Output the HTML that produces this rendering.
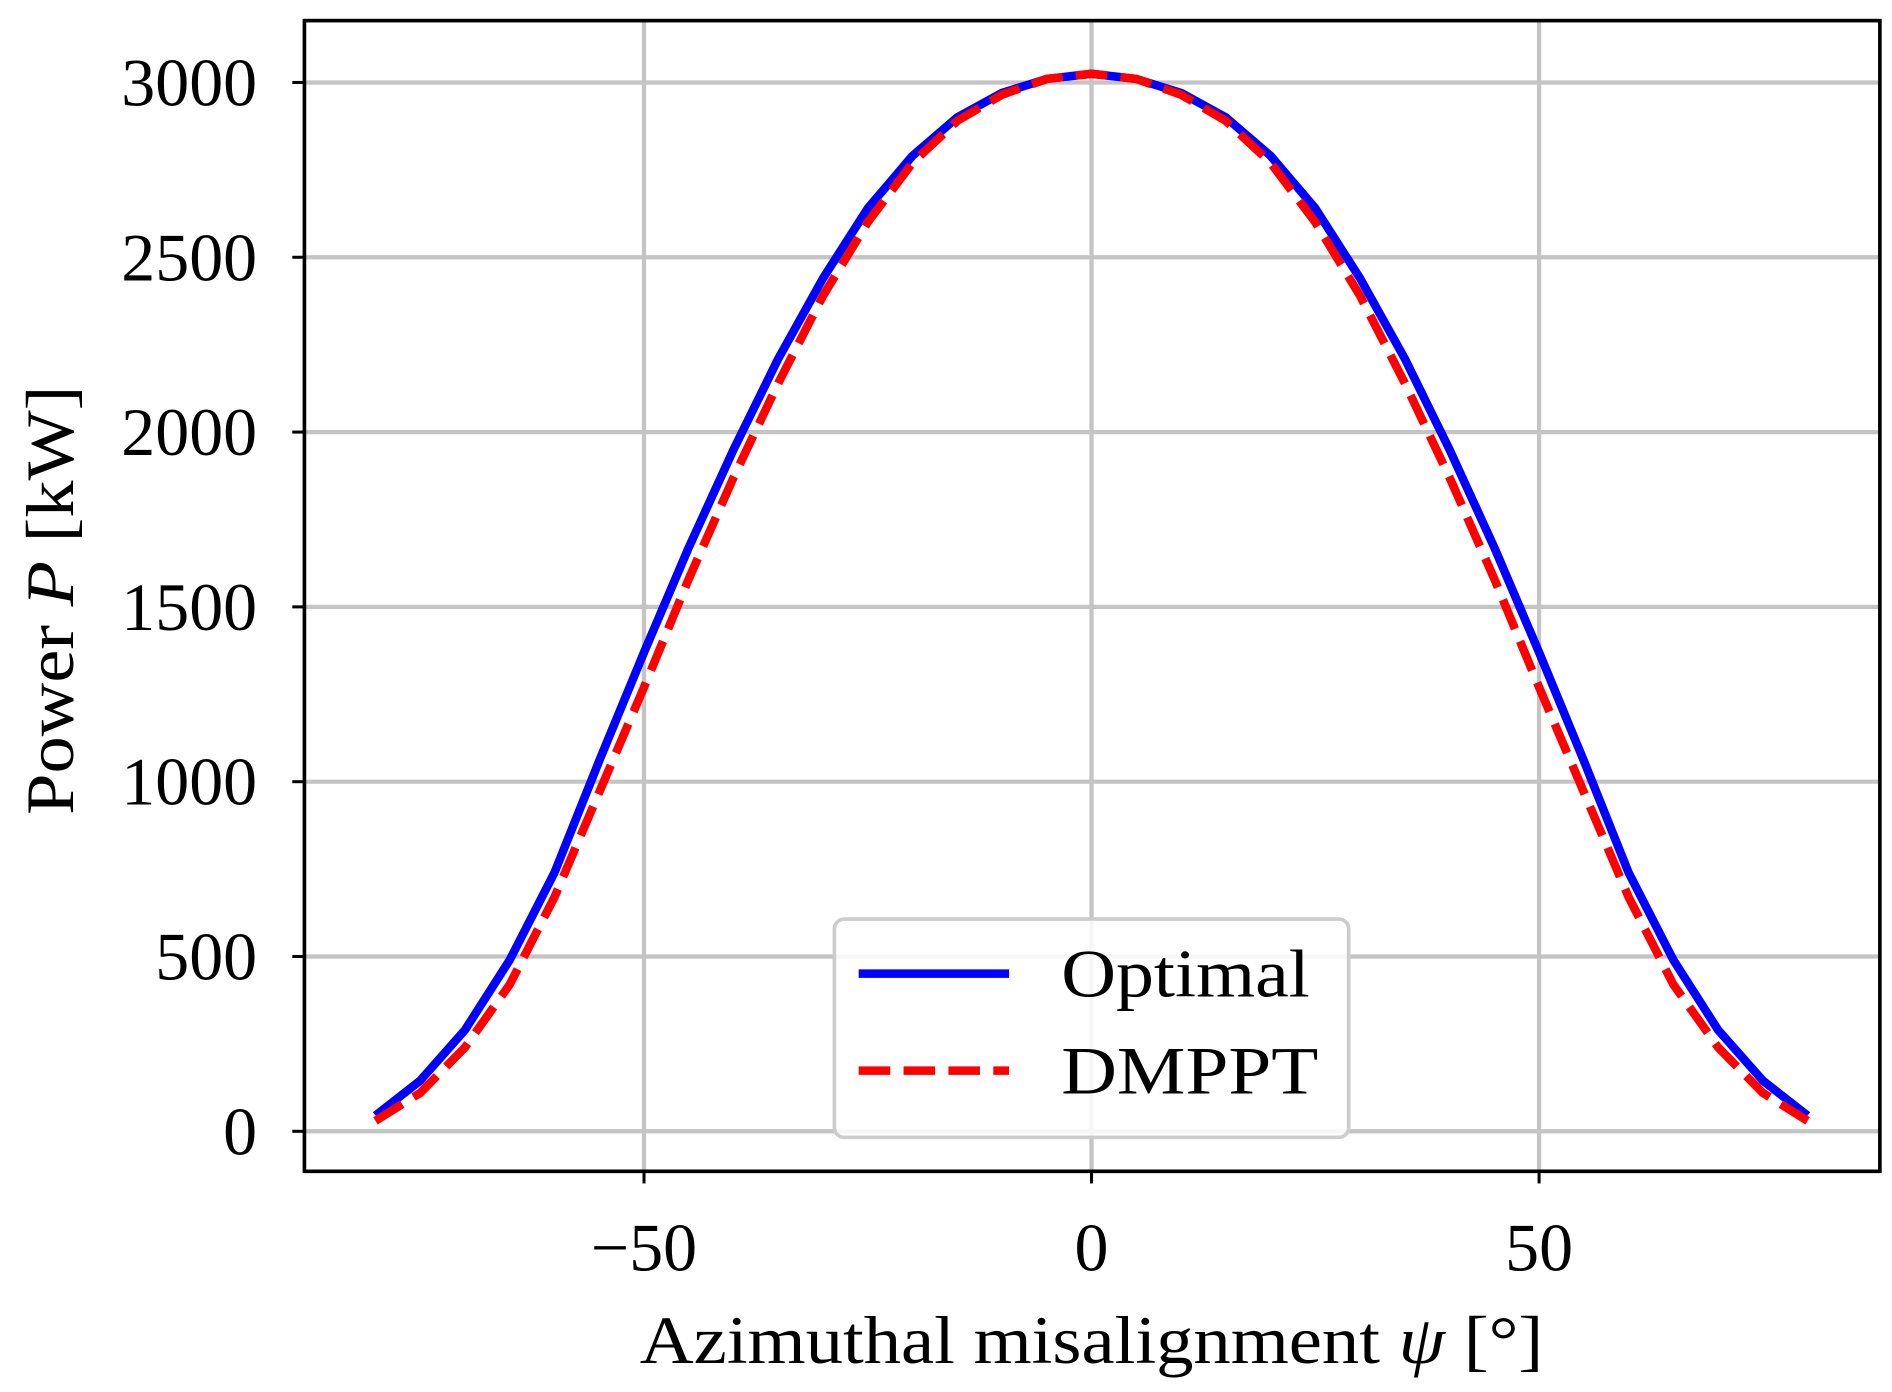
<!DOCTYPE html>
<html><head><meta charset="utf-8"><style>
html,body{margin:0;padding:0;background:#fff;}
svg{display:block;}
text{font-family:"Liberation Serif",serif;fill:#000;}
</style></head><body>
<svg id="chart" width="1892" height="1392" viewBox="0 0 1560 1148" preserveAspectRatio="none" xmlns="http://www.w3.org/2000/svg">
<g id="grid"></g>
<g id="series"></g>
<rect x="251" y="17" width="1299" height="949" fill="none" stroke="#000" stroke-width="3"/>
<g id="ticks"></g>
<text x="900" y="1124" font-size="56" text-anchor="middle" textLength="745" lengthAdjust="spacingAndGlyphs">Azimuthal misalignment <tspan font-style="italic">ψ</tspan> [°]</text>
<text transform="translate(60,495) rotate(-90)" font-size="56" text-anchor="middle" textLength="354" lengthAdjust="spacingAndGlyphs">Power <tspan font-style="italic">P</tspan> [kW]</text>
<g>
<rect x="688" y="758" width="424" height="180" rx="8" fill="#fff" fill-opacity="0.85" stroke="#ccc" stroke-width="3"/>
<line x1="708" y1="803" x2="832" y2="803" stroke="#0000ff" stroke-width="7"/>
<text x="875" y="822" font-size="56" textLength="205" lengthAdjust="spacingAndGlyphs">Optimal</text>
<line x1="708" y1="883" x2="832" y2="883" stroke="#ff0000" stroke-width="7" stroke-dasharray="26 11"/>
<text x="875" y="902" font-size="56" textLength="212" lengthAdjust="spacingAndGlyphs">DMPPT</text>
</g>
</svg>
<script>
const psi = [-80,-75,-70,-65,-60,-55,-50,-45,-40,-35,-30,-25,-20,-15,-10,-5,0,5,10,15,20,25,30,35,40,45,50,55,60,65,70,75,80];
const optimal = [45,145,290,490,740,1060,1370,1670,1950,2210,2440,2640,2790,2900,2970,3010,3025,3010,2970,2900,2790,2640,2440,2210,1950,1670,1370,1060,740,490,290,145,45];
const dmppt = [30,110,240,420,670,970,1270,1580,1870,2140,2390,2600,2770,2890,2965,3010,3025,3010,2965,2890,2770,2600,2390,2140,1870,1580,1270,970,670,420,240,110,30];
const xTicks = [-50,0,50];
const xTickLabels = ["−50","0","50"];
const yTicks = [0,500,1000,1500,2000,2500,3000];
const yTickLabels = ["0","500","1000","1500","2000","2500","3000"];

const NS="http://www.w3.org/2000/svg";
function X(v){return 900+v*(369/50);}
function Y(v){return 933-v*(865/3000);}
function mk(tag,attrs,parent){const e=document.createElementNS(NS,tag);for(const k in attrs)e.setAttribute(k,attrs[k]);parent.appendChild(e);return e;}
const grid=document.getElementById('grid'),ticks=document.getElementById('ticks'),series=document.getElementById('series');
xTicks.forEach((t,i)=>{
  const g=mk('line',{x1:X(t),x2:X(t),y1:17,y2:966,stroke:'#c4c4c4','stroke-width':3.5},grid);
  
  
  const tk=mk('line',{x1:X(t),x2:X(t),y1:966,y2:976,stroke:'#000','stroke-width':2.5},ticks);
  
  
  const l=mk('text',{x:X(t),y:1048,'font-size':56,'text-anchor':'middle'},ticks);
  l.textContent=xTickLabels[i];
  
  
});
yTicks.forEach((t,i)=>{
  const g=mk('line',{x1:251,x2:1550,y1:Y(t),y2:Y(t),stroke:'#c4c4c4','stroke-width':3.5},grid);
  
  
  const tk=mk('line',{x1:241,x2:251,y1:Y(t),y2:Y(t),stroke:'#000','stroke-width':2.5},ticks);
  
  
  const l=mk('text',{x:212,y:Y(t)+19,'font-size':56,'text-anchor':'end'},ticks);
  l.textContent=yTickLabels[i];
  
  
});
function pts(arr){return psi.map((p,i)=>X(p).toFixed(1)+','+Y(arr[i]).toFixed(1)).join(' ');}
const lo=mk('polyline',{points:pts(optimal),fill:'none',stroke:'#0000ff','stroke-width':7,'stroke-linejoin':'round'},series);


const ld=mk('polyline',{points:pts(dmppt),fill:'none',stroke:'#ff0000','stroke-width':7,'stroke-dasharray':'26 11'},series);


</script>
</body></html>
